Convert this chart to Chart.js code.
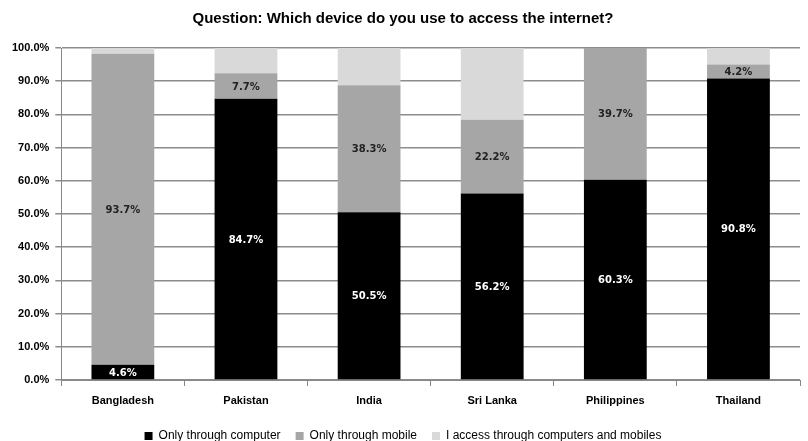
<!DOCTYPE html>
<html>
<head>
<meta charset="utf-8">
<script src="https://cdn.jsdelivr.net/npm/chart.js@4/dist/chart.umd.min.js"></script>
<style>
  html, body { margin: 0; padding: 0; background: #fff; }
  #wrap { width: 808px; height: 441px; }
</style>
</head>
<body>
<div id="wrap"><canvas id="chart" width="808" height="441"></canvas></div>
<script>
const countries = ["Bangladesh", "Pakistan", "India", "Sri Lanka", "Philippines", "Thailand"];
const computerOnly = [4.6, 84.7, 50.5, 56.2, 60.3, 90.8];
const mobileOnly = [93.7, 7.7, 38.3, 22.2, 39.7, 4.2];
const bothDevices = [1.7, 7.6, 11.2, 21.6, 0, 5.0];
const seriesNames = ["Only through computer", "Only through mobile", "I access through computers and mobiles"];

const FONT = "'Liberation Sans', Arial, sans-serif";
const LABEL_FONT = "'DejaVu Sans', Verdana, sans-serif";

// draws value labels on the first two series
const valueLabels = {
  id: "valueLabels",
  afterDatasetsDraw(chart) {
    const ctx = chart.ctx;
    ctx.save();
    ctx.font = "bold 10px " + LABEL_FONT;
    ctx.textAlign = "center";
    ctx.textBaseline = "middle";
    [0, 1].forEach((di) => {
      const meta = chart.getDatasetMeta(di);
      meta.data.forEach((bar, i) => {
        const v = chart.data.datasets[di].data[i];
        if (!v) return;
        const mid = (bar.y + bar.base) / 2;
        ctx.fillStyle = di === 0 ? "#ffffff" : "#222222";
        ctx.fillText(v.toFixed(1) + "%", bar.x, mid + 1);
      });
    });
    ctx.restore();
  },
};

new Chart(document.getElementById("chart").getContext("2d"), {
  type: "bar",
  data: {
    labels: countries,
    datasets: [
      { label: seriesNames[0], data: computerOnly, backgroundColor: "#000000" },
      { label: seriesNames[1], data: mobileOnly, backgroundColor: "#a6a6a6" },
      { label: seriesNames[2], data: bothDevices, backgroundColor: "#d9d9d9" },
    ],
  },
  options: {
    responsive: false,
    animation: false,
    datasets: { bar: { categoryPercentage: 1, barPercentage: 0.51, borderWidth: 0 } },
    layout: { padding: { left: 6, right: 8, top: 0, bottom: -11 } },
    plugins: {
      title: {
        display: true,
        text: "Question: Which device do you use to access the internet?",
        color: "#000",
        font: { family: FONT, size: 15, weight: "bold" },
        padding: { top: 10, bottom: 20 },
      },
      legend: {
        position: "bottom",
        labels: {
          color: "#000",
          font: { family: FONT, size: 12 },
          boxWidth: 8,
          boxHeight: 8,
          padding: 15,
        },
      },
      tooltip: { enabled: false },
    },
    scales: {
      x: {
        stacked: true,
        grid: { display: true, drawOnChartArea: false, offset: true, color: "#888", tickLength: 6 },
        border: { color: "#888" },
        ticks: { color: "#000", font: { family: FONT, size: 11, weight: "bold", lineHeight: 1 }, padding: 9 },
      },
      y: {
        stacked: true,
        min: 0,
        max: 100,
        grid: { color: "#8c8c8c", lineWidth: 1.5, tickLength: 6 },
        border: { color: "#888" },
        ticks: {
          stepSize: 10,
          color: "#000",
          font: { family: FONT, size: 11, weight: "bold" },
          padding: 6,
          callback: (v) => v.toFixed(1) + "%",
        },
      },
    },
  },
  plugins: [valueLabels],
});
</script>
</body>
</html>
